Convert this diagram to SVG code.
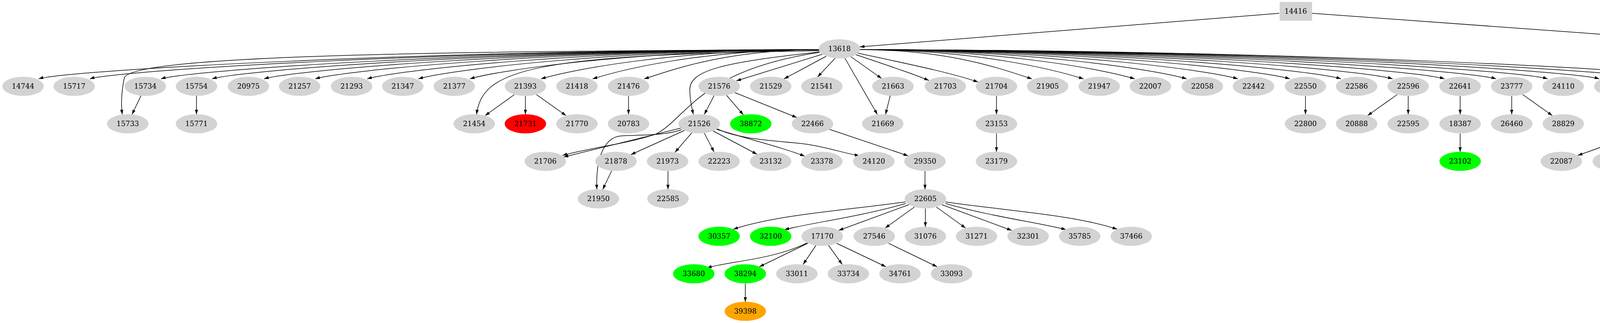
<svg xmlns="http://www.w3.org/2000/svg" width="4854" height="827" viewBox="0 0 4854 827">
<style>
.n ellipse,.n rect{fill:#d3d3d3;stroke:none}
.g ellipse{fill:#00ff00}.r ellipse{fill:#ff0000}.o ellipse{fill:#ffa500}
text{font-family:"DejaVu Serif","Liberation Serif",serif;font-size:18px;fill:#000;text-anchor:middle}
#edges path{fill:none;stroke:#000;stroke-width:1.5;marker-end:url(#a)}
</style>
<defs><marker id="a" markerUnits="userSpaceOnUse" markerWidth="12" markerHeight="8" refX="12" refY="4" orient="auto"><path d="M0,0L12,4L0,8z" fill="#000"/></marker></defs>
<rect width="4854" height="827" fill="#fff"/>
<g id="edges">
<path d="M3275,34L2201,120"/><path d="M3359,34L4544,120"/>
<path d="M2097,127C1078,128 169,180 99,202"/>
<path d="M2097,127C1144,128 300,180 230,202"/>
<path d="M2097,127C1234,128 482,180 412,202"/>
<path d="M2097,127C1300,128 613,180 543,202"/>
<path d="M2097,127C1366,128 746,180 676,202"/>
<path d="M2097,127C1432,128 877,180 807,202"/>
<path d="M2097,127C1498,128 1010,180 940,202"/>
<path d="M2097,127C1564,128 1141,180 1071,202"/>
<path d="M2097,127C1630,128 1273,180 1203,202"/>
<path d="M2097,127C1721,128 1455,180 1385,202"/>
<path d="M2097,127C1787,128 1587,180 1517,202"/>
<path d="M2097,127C1853,128 1719,180 1649,202"/>
<path d="M2201,127C2441,128 2572,180 2642,202"/>
<path d="M2201,127C2507,128 2704,180 2774,202"/>
<path d="M2201,127C2573,128 2835,180 2905,202"/>
<path d="M2201,127C2639,128 2968,180 3038,202"/>
<path d="M2201,127C2705,128 3099,180 3169,202"/>
<path d="M2201,127C2771,128 3232,180 3302,202"/>
<path d="M2201,127C2837,128 3363,180 3433,202"/>
<path d="M2201,127C2903,128 3495,180 3565,202"/>
<path d="M2201,127C2969,128 3628,180 3698,202"/>
<path d="M2201,127C3035,128 3760,180 3830,202"/>
<path d="M2201,127C3101,128 3892,180 3962,202"/>
<path d="M2201,127C3167,128 4024,180 4094,202"/>
<path d="M2201,127C3233,128 4156,180 4226,202"/>
<path d="M2201,127C3299,128 4288,180 4358,202"/>
<path d="M2105,139L1885,207"/><path d="M2115,144L2007,202"/><path d="M2138,149L2093,197"/>
<path d="M2163,149L2246,293"/><path d="M2178,145L2257,201"/>
<path d="M2191,140C2280,170 2340,190 2378,206"/><path d="M2196,136C2330,165 2430,185 2504,210"/>
<path d="M2097,128C900,130 330,150 318,200C310,240 310,270 313,293"/>
<path d="M2097,130C1350,140 1235,180 1220,293"/>
<path d="M2098,133C1850,160 1765,180 1766,230C1766,260 1772,280 1775,293"/>
<path d="M2098,134C1790,180 1760,300 1680,343C1600,370 1500,380 1440,398"/>
<path d="M361,245L338,293"/><path d="M503,245L503,293"/>
<path d="M1317,242L1242,296"/><path d="M1345,246L1345,293"/><path d="M1373,242L1449,296"/>
<path d="M1609,246L1609,293"/>
<path d="M1828,245L1803,293"/><path d="M1860,244L1903,294"/><path d="M1881,237L2040,301"/>
<path d="M2279,245L2267,293"/>
<path d="M1743,328L1443,402"/>
<path d="M1745,332C1700,348 1640,345 1590,348C1540,352 1525,420 1528,485"/>
<path d="M1752,334L1615,396"/><path d="M1771,340L1728,390"/><path d="M1803,341L1828,389"/>
<path d="M1825,335L1938,395"/><path d="M1834,331C1930,360 2010,380 2060,400"/>
<path d="M1836,330C1900,360 2000,360 2070,370C2130,380 2170,395 2200,398"/>
<path d="M2123,331L2325,399"/><path d="M1566,437L1543,485"/><path d="M1710,438L1710,485"/>
<path d="M2368,438L2368,485"/>
<path d="M2318,517C2150,540 1990,550 1877,587"/>
<path d="M2319,521C2200,555 2080,570 2008,588"/>
<path d="M2327,524L2147,590"/><path d="M2341,530L2266,584"/><path d="M2369,534L2369,581"/>
<path d="M2397,530L2472,584"/><path d="M2411,524L2590,590"/>
<path d="M2420,521C2540,555 2660,570 2729,588"/>
<path d="M2420,517C2580,540 2750,550 2860,587"/>
<path d="M2066,622C1980,665 1860,670 1810,686"/>
<path d="M2068,623L1944,683"/><path d="M2089,628L2056,677"/><path d="M2121,628L2156,677"/><path d="M2142,623L2268,683"/>
<path d="M2275,623L2399,683"/><path d="M1908,726L1908,773"/>
<path d="M2551,246L2551,293"/><path d="M2551,342L2551,389"/>
<path d="M3342,246L3342,293"/>
<path d="M3577,242L3501,296"/><path d="M3605,246L3605,293"/>
<path d="M3738,246L3738,293"/><path d="M3738,342L3738,389"/>
<path d="M3870,246L3870,293"/><path d="M3898,242L3974,296"/>
<path d="M4266,246L4266,293"/>
<path d="M4224,332L4039,398"/><path d="M4237,338L4159,392"/>
<path d="M4259,341C4252,400 4256,450 4260,485"/>
<path d="M4278,341L4300,389"/><path d="M4300,336L4410,394"/><path d="M4310,331L4532,399"/>
<path d="M4300,437L4275,485"/><path d="M4444,438L4444,485"/>
<path d="M4580,148L4546,198"/><path d="M4612,148L4646,198"/><path d="M4633,143L4757,203"/>
<path d="M4794,246L4794,293"/>
</g>
<g id="n14416" class="n"><rect x="3276" y="5" width="83" height="48"/><text x="3317" y="35">14416</text></g>
<g id="n13618" class="n"><ellipse cx="2149" cy="125" rx="53" ry="24.5"/><text x="2149" y="131">13618</text></g>
<g id="n14568" class="n"><ellipse cx="4596" cy="125" rx="53" ry="24.5"/><text x="4596" y="131">14568</text></g>
<g id="n14744" class="n"><ellipse cx="59" cy="221" rx="53" ry="24.5"/><text x="59" y="227">14744</text></g>
<g id="n15717" class="n"><ellipse cx="190" cy="221" rx="53" ry="24.5"/><text x="190" y="227">15717</text></g>
<g id="n15734" class="n"><ellipse cx="372" cy="221" rx="53" ry="24.5"/><text x="372" y="227">15734</text></g>
<g id="n15754" class="n"><ellipse cx="503" cy="221" rx="53" ry="24.5"/><text x="503" y="227">15754</text></g>
<g id="n20975" class="n"><ellipse cx="636" cy="221" rx="53" ry="24.5"/><text x="636" y="227">20975</text></g>
<g id="n21257" class="n"><ellipse cx="767" cy="221" rx="53" ry="24.5"/><text x="767" y="227">21257</text></g>
<g id="n21293" class="n"><ellipse cx="900" cy="221" rx="53" ry="24.5"/><text x="900" y="227">21293</text></g>
<g id="n21347" class="n"><ellipse cx="1031" cy="221" rx="53" ry="24.5"/><text x="1031" y="227">21347</text></g>
<g id="n21377" class="n"><ellipse cx="1163" cy="221" rx="53" ry="24.5"/><text x="1163" y="227">21377</text></g>
<g id="n21393" class="n"><ellipse cx="1345" cy="221" rx="53" ry="24.5"/><text x="1345" y="227">21393</text></g>
<g id="n21418" class="n"><ellipse cx="1477" cy="221" rx="53" ry="24.5"/><text x="1477" y="227">21418</text></g>
<g id="n21476" class="n"><ellipse cx="1609" cy="221" rx="53" ry="24.5"/><text x="1609" y="227">21476</text></g>
<g id="n21576" class="n"><ellipse cx="1841" cy="221" rx="53" ry="24.5"/><text x="1841" y="227">21576</text></g>
<g id="n21529" class="n"><ellipse cx="1973" cy="221" rx="53" ry="24.5"/><text x="1973" y="227">21529</text></g>
<g id="n21541" class="n"><ellipse cx="2104" cy="221" rx="53" ry="24.5"/><text x="2104" y="227">21541</text></g>
<g id="n21663" class="n"><ellipse cx="2286" cy="221" rx="53" ry="24.5"/><text x="2286" y="227">21663</text></g>
<g id="n21703" class="n"><ellipse cx="2420" cy="221" rx="53" ry="24.5"/><text x="2420" y="227">21703</text></g>
<g id="n21704" class="n"><ellipse cx="2551" cy="221" rx="53" ry="24.5"/><text x="2551" y="227">21704</text></g>
<g id="n21905" class="n"><ellipse cx="2682" cy="221" rx="53" ry="24.5"/><text x="2682" y="227">21905</text></g>
<g id="n21947" class="n"><ellipse cx="2814" cy="221" rx="53" ry="24.5"/><text x="2814" y="227">21947</text></g>
<g id="n22007" class="n"><ellipse cx="2945" cy="221" rx="53" ry="24.5"/><text x="2945" y="227">22007</text></g>
<g id="n22058" class="n"><ellipse cx="3078" cy="221" rx="53" ry="24.5"/><text x="3078" y="227">22058</text></g>
<g id="n22442" class="n"><ellipse cx="3209" cy="221" rx="53" ry="24.5"/><text x="3209" y="227">22442</text></g>
<g id="n22550" class="n"><ellipse cx="3342" cy="221" rx="53" ry="24.5"/><text x="3342" y="227">22550</text></g>
<g id="n22586" class="n"><ellipse cx="3473" cy="221" rx="53" ry="24.5"/><text x="3473" y="227">22586</text></g>
<g id="n22596" class="n"><ellipse cx="3605" cy="221" rx="53" ry="24.5"/><text x="3605" y="227">22596</text></g>
<g id="n22641" class="n"><ellipse cx="3738" cy="221" rx="53" ry="24.5"/><text x="3738" y="227">22641</text></g>
<g id="n23777" class="n"><ellipse cx="3870" cy="221" rx="53" ry="24.5"/><text x="3870" y="227">23777</text></g>
<g id="n24110" class="n"><ellipse cx="4002" cy="221" rx="53" ry="24.5"/><text x="4002" y="227">24110</text></g>
<g id="n24371" class="n"><ellipse cx="4134" cy="221" rx="53" ry="24.5"/><text x="4134" y="227">24371</text></g>
<g id="n25069" class="n"><ellipse cx="4266" cy="221" rx="53" ry="24.5"/><text x="4266" y="227">25069</text></g>
<g id="n26865" class="n"><ellipse cx="4398" cy="221" rx="53" ry="24.5"/><text x="4398" y="227">26865</text></g>
<g id="n19124" class="n"><ellipse cx="4530" cy="221" rx="53" ry="24.5"/><text x="4530" y="227">19124</text></g>
<g id="n19125" class="n"><ellipse cx="4662" cy="221" rx="53" ry="24.5"/><text x="4662" y="227">19125</text></g>
<g id="n19128" class="n"><ellipse cx="4794" cy="221" rx="53" ry="24.5"/><text x="4794" y="227">19128</text></g>
<g id="n15733" class="n"><ellipse cx="327" cy="317" rx="53" ry="24.5"/><text x="327" y="323">15733</text></g>
<g id="n15771" class="n"><ellipse cx="503" cy="317" rx="53" ry="24.5"/><text x="503" y="323">15771</text></g>
<g id="n21454" class="n"><ellipse cx="1214" cy="317" rx="53" ry="24.5"/><text x="1214" y="323">21454</text></g>
<g id="n21731" class="n r"><ellipse cx="1345" cy="317" rx="53" ry="24.5"/><text x="1345" y="323">21731</text></g>
<g id="n21770" class="n"><ellipse cx="1477" cy="317" rx="53" ry="24.5"/><text x="1477" y="323">21770</text></g>
<g id="n20783" class="n"><ellipse cx="1609" cy="317" rx="53" ry="24.5"/><text x="1609" y="323">20783</text></g>
<g id="n21526" class="n"><ellipse cx="1790" cy="317" rx="53" ry="24.5"/><text x="1790" y="323">21526</text></g>
<g id="n38872" class="n g"><ellipse cx="1922" cy="317" rx="53" ry="24.5"/><text x="1922" y="323">38872</text></g>
<g id="n22466" class="n"><ellipse cx="2080" cy="317" rx="53" ry="24.5"/><text x="2080" y="323">22466</text></g>
<g id="n21669" class="n"><ellipse cx="2260" cy="317" rx="53" ry="24.5"/><text x="2260" y="323">21669</text></g>
<g id="n23153" class="n"><ellipse cx="2551" cy="317" rx="53" ry="24.5"/><text x="2551" y="323">23153</text></g>
<g id="n22800" class="n"><ellipse cx="3342" cy="317" rx="53" ry="24.5"/><text x="3342" y="323">22800</text></g>
<g id="n20888" class="n"><ellipse cx="3473" cy="317" rx="53" ry="24.5"/><text x="3473" y="323">20888</text></g>
<g id="n22595" class="n"><ellipse cx="3605" cy="317" rx="53" ry="24.5"/><text x="3605" y="323">22595</text></g>
<g id="n18387" class="n"><ellipse cx="3738" cy="317" rx="53" ry="24.5"/><text x="3738" y="323">18387</text></g>
<g id="n26460" class="n"><ellipse cx="3870" cy="317" rx="53" ry="24.5"/><text x="3870" y="323">26460</text></g>
<g id="n28829" class="n"><ellipse cx="4002" cy="317" rx="53" ry="24.5"/><text x="4002" y="323">28829</text></g>
<g id="n25070" class="n"><ellipse cx="4266" cy="317" rx="53" ry="24.5"/><text x="4266" y="323">25070</text></g>
<g id="n19391" class="n"><ellipse cx="4794" cy="317" rx="53" ry="24.5"/><text x="4794" y="323">19391</text></g>
<g id="n21706" class="n"><ellipse cx="1396" cy="413" rx="53" ry="24.5"/><text x="1396" y="419">21706</text></g>
<g id="n21878" class="n"><ellipse cx="1577" cy="413" rx="53" ry="24.5"/><text x="1577" y="419">21878</text></g>
<g id="n21973" class="n"><ellipse cx="1709" cy="413" rx="53" ry="24.5"/><text x="1709" y="419">21973</text></g>
<g id="n22223" class="n"><ellipse cx="1841" cy="413" rx="53" ry="24.5"/><text x="1841" y="419">22223</text></g>
<g id="n23132" class="n"><ellipse cx="1973" cy="413" rx="53" ry="24.5"/><text x="1973" y="419">23132</text></g>
<g id="n23378" class="n"><ellipse cx="2104" cy="413" rx="53" ry="24.5"/><text x="2104" y="419">23378</text></g>
<g id="n24120" class="n"><ellipse cx="2237" cy="413" rx="53" ry="24.5"/><text x="2237" y="419">24120</text></g>
<g id="n29350" class="n"><ellipse cx="2368" cy="413" rx="53" ry="24.5"/><text x="2368" y="419">29350</text></g>
<g id="n23179" class="n"><ellipse cx="2551" cy="413" rx="53" ry="24.5"/><text x="2551" y="419">23179</text></g>
<g id="n23102" class="n g"><ellipse cx="3738" cy="413" rx="53" ry="24.5"/><text x="3738" y="419">23102</text></g>
<g id="n22087" class="n"><ellipse cx="3997" cy="413" rx="53" ry="24.5"/><text x="3997" y="419">22087</text></g>
<g id="n25463" class="n"><ellipse cx="4130" cy="413" rx="53" ry="24.5"/><text x="4130" y="419">25463</text></g>
<g id="n25839" class="n"><ellipse cx="4312" cy="413" rx="53" ry="24.5"/><text x="4312" y="419">25839</text></g>
<g id="n26556" class="n"><ellipse cx="4444" cy="413" rx="53" ry="24.5"/><text x="4444" y="419">26556</text></g>
<g id="n29213" class="n"><ellipse cx="4576" cy="413" rx="53" ry="24.5"/><text x="4576" y="419">29213</text></g>
<g id="n21950" class="n"><ellipse cx="1532" cy="509" rx="53" ry="24.5"/><text x="1532" y="515">21950</text></g>
<g id="n22585" class="n"><ellipse cx="1710" cy="509" rx="53" ry="24.5"/><text x="1710" y="515">22585</text></g>
<g id="n22605" class="n"><ellipse cx="2369" cy="509" rx="53" ry="24.5"/><text x="2369" y="515">22605</text></g>
<g id="n25842" class="n"><ellipse cx="4262" cy="509" rx="53" ry="24.5"/><text x="4262" y="515">25842</text></g>
<g id="n26538" class="n"><ellipse cx="4444" cy="509" rx="53" ry="24.5"/><text x="4444" y="515">26538</text></g>
<g id="n30357" class="n g"><ellipse cx="1841" cy="605" rx="53" ry="24.5"/><text x="1841" y="611">30357</text></g>
<g id="n32100" class="n g"><ellipse cx="1973" cy="605" rx="53" ry="24.5"/><text x="1973" y="611">32100</text></g>
<g id="n17170" class="n"><ellipse cx="2105" cy="605" rx="53" ry="24.5"/><text x="2105" y="611">17170</text></g>
<g id="n27546" class="n"><ellipse cx="2238" cy="605" rx="53" ry="24.5"/><text x="2238" y="611">27546</text></g>
<g id="n31076" class="n"><ellipse cx="2369" cy="605" rx="53" ry="24.5"/><text x="2369" y="611">31076</text></g>
<g id="n31271" class="n"><ellipse cx="2500" cy="605" rx="53" ry="24.5"/><text x="2500" y="611">31271</text></g>
<g id="n32301" class="n"><ellipse cx="2632" cy="605" rx="53" ry="24.5"/><text x="2632" y="611">32301</text></g>
<g id="n35785" class="n"><ellipse cx="2764" cy="605" rx="53" ry="24.5"/><text x="2764" y="611">35785</text></g>
<g id="n37466" class="n"><ellipse cx="2896" cy="605" rx="53" ry="24.5"/><text x="2896" y="611">37466</text></g>
<g id="n33680" class="n g"><ellipse cx="1776" cy="701" rx="53" ry="24.5"/><text x="1776" y="707">33680</text></g>
<g id="n38294" class="n g"><ellipse cx="1908" cy="701" rx="53" ry="24.5"/><text x="1908" y="707">38294</text></g>
<g id="n33011" class="n"><ellipse cx="2040" cy="701" rx="53" ry="24.5"/><text x="2040" y="707">33011</text></g>
<g id="n33734" class="n"><ellipse cx="2172" cy="701" rx="53" ry="24.5"/><text x="2172" y="707">33734</text></g>
<g id="n34761" class="n"><ellipse cx="2304" cy="701" rx="53" ry="24.5"/><text x="2304" y="707">34761</text></g>
<g id="n33093" class="n"><ellipse cx="2436" cy="701" rx="53" ry="24.5"/><text x="2436" y="707">33093</text></g>
<g id="n39398" class="n o"><ellipse cx="1908" cy="797" rx="53" ry="24.5"/><text x="1908" y="803">39398</text></g>
</svg>
